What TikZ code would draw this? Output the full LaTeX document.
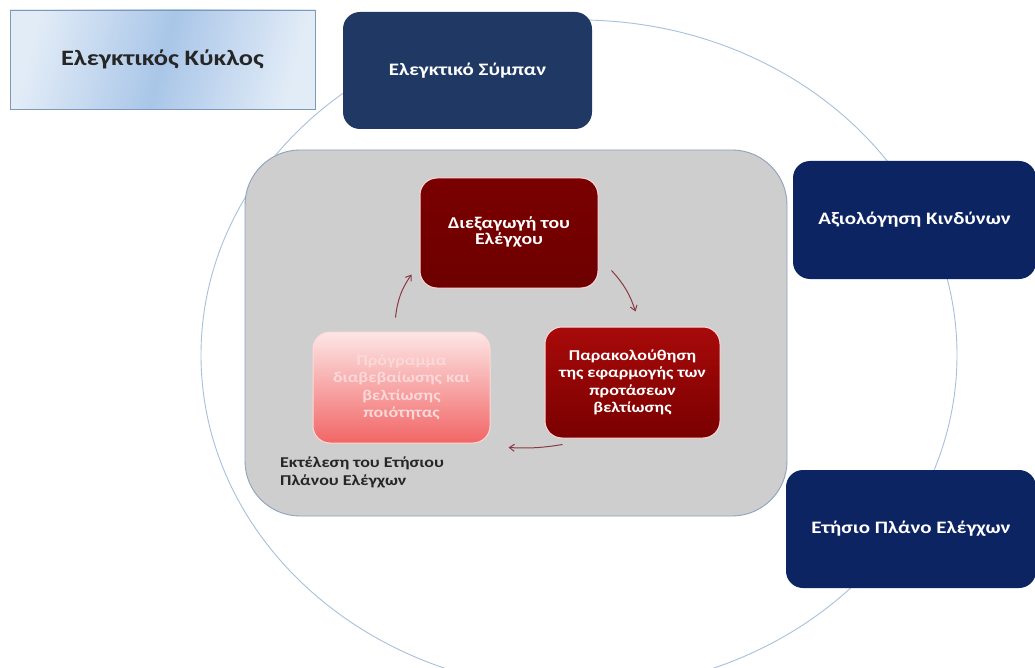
\documentclass[tikz,border=0pt]{standalone}
\usepackage{fontspec}
\setmainfont[FakeStretch=1.2]{Carlito}
\usetikzlibrary{arrows.meta}
\definecolor{ringc}{HTML}{A8C0DC}
\definecolor{navyA}{HTML}{203864}
\definecolor{navyB}{HTML}{0C2462}
\definecolor{grayfill}{HTML}{CFCECE}
\definecolor{grayline}{HTML}{8EA2BC}
\definecolor{redA}{HTML}{7A0000}
\definecolor{redC}{HTML}{A80A0A}
\definecolor{pinkT}{HTML}{FDE6E6}
\definecolor{pinkB}{HTML}{F26666}
\definecolor{pinktext}{HTML}{FCD9D9}
\definecolor{arrowc}{HTML}{8A3A44}
\definecolor{titleL}{HTML}{E2ECF7}
\definecolor{titleM}{HTML}{A9C6E8}
\definecolor{titleline}{HTML}{7F98BA}
\tikzset{
  ring/.style={draw=ringc, line width=0.9pt},
  navybox/.style={rounded corners=17pt, text=white, font=\bfseries\fontsize{17.5}{20}\selectfont, align=center, inner sep=0pt},
  redbox/.style={rounded corners=17pt, draw=white!85!red, line width=1pt, text=white, font=\bfseries\fontsize{15}{17.5}\selectfont, align=center, inner sep=0pt},
  cyc/.style={draw=arrowc, line width=1pt, -{Straight Barb[length=5pt,width=7pt]}},
}
\begin{document}
\begin{tikzpicture}[x=1pt,y=-1pt]
\useasboundingbox[fill=white] (0,0) rectangle (1035,668);
\begin{scope}
\clip (0,0) rectangle (1035,668);
\draw[ring] (579,355) ellipse [x radius=378pt, y radius=335pt];
\end{scope}
% title
\node[draw=titleline, line width=0.8pt, shading=axis, left color=titleL, right color=titleL, middle color=titleM, shading angle=75,
  minimum width=305pt, minimum height=99pt, inner sep=0pt, font=\bfseries\fontsize{22}{26}\selectfont, text=black!85]
  (title) at (162.5,59.5) {Ελεγκτικός Κύκλος};
% navy boxes
\node[navybox, fill=navyA, minimum width=249pt, minimum height=117pt] (universe) at (467.5,70.5) {Ελεγκτικό Σύμπαν};
\node[navybox, fill=navyB, minimum width=243pt, minimum height=118pt] (risk) at (914.5,220) {Αξιολόγηση Κινδύνων};
\node[navybox, fill=navyB, minimum width=250pt, minimum height=118pt] (plan) at (911,529) {Ετήσιο Πλάνο Ελέγχων};
% gray box
\node[draw=grayline, line width=0.9pt, fill=grayfill, rounded corners=55pt, minimum width=542pt, minimum height=366pt, inner sep=0pt] (exec) at (516,333) {};
\node[anchor=north west, align=left, inner sep=0pt, font=\bfseries\fontsize{15}{17.5}\selectfont, text=black!85] (execlabel) at (280,457) {Εκτέλεση του Ετήσιου\\Πλάνου Ελέγχων};
% red boxes
\node[redbox, top color=redA, bottom color=redA!90!black, minimum width=178pt, minimum height=110pt, font=\bfseries\fontsize{16.5}{18}\selectfont] (conduct) at (509,233) {\raisebox{3pt}{\begin{tabular}{@{}c@{}}Διεξαγωγή του\\[-2pt]Ελέγχου\end{tabular}}};
\node[redbox, top color=redC, bottom color=redA, minimum width=175pt, minimum height=111pt] (monitor) at (632.5,382.5) {Παρακολούθηση\\της εφαρμογής των\\προτάσεων\\βελτίωσης};
\node[redbox, top color=pinkT, bottom color=pinkB, text=pinktext, minimum width=177pt, minimum height=111pt] (quality) at (401.5,387.5) {Πρόγραμμα\\διαβεβαίωσης και\\βελτίωσης\\ποιότητας};
% cycle arrows
\draw[cyc] ([xshift=13pt,yshift=18pt]conduct.south east) to[bend left=12] ([xshift=3pt,yshift=15pt]monitor.north);
\draw[cyc] ([xshift=18pt,yshift=-6pt]monitor.south west) to[bend left=6] ([xshift=18pt,yshift=-4pt]quality.south east);
\draw[cyc] ([xshift=-6pt,yshift=14pt]quality.north) to[bend left=14] ([xshift=-8pt,yshift=14pt]conduct.south west);
\end{tikzpicture}
\end{document}
